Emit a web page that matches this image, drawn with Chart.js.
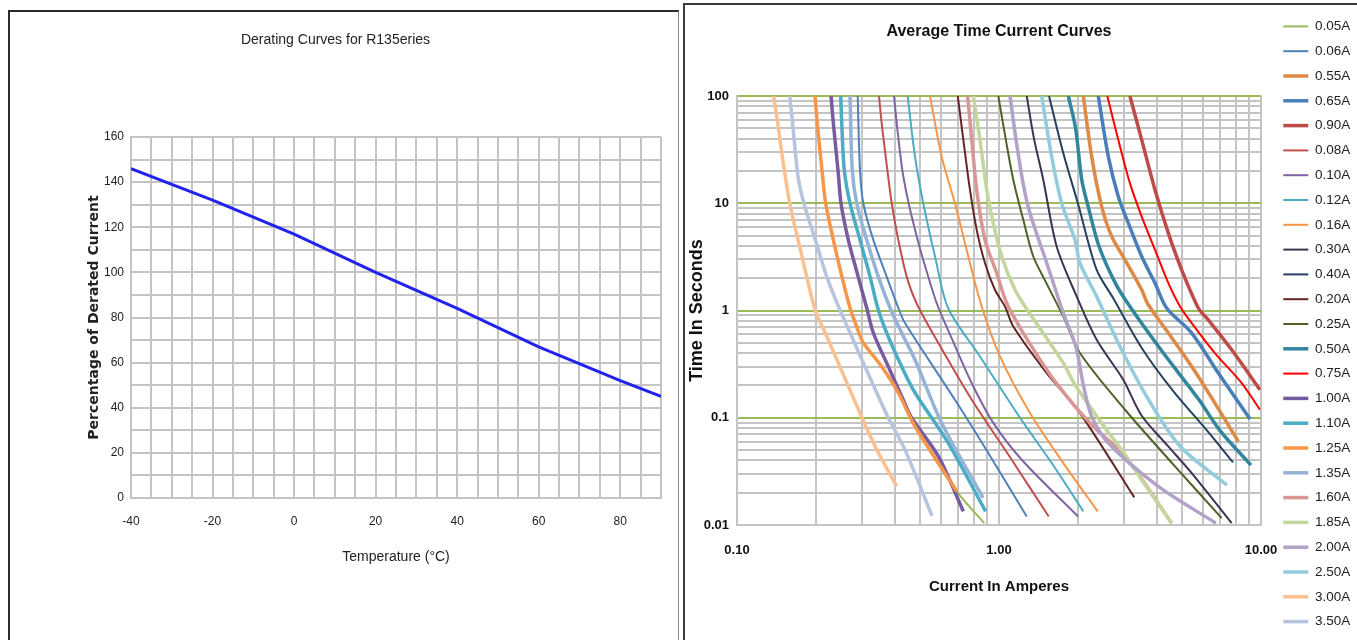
<!DOCTYPE html>
<html>
<head>
<meta charset="utf-8">
<script src="https://cdn.jsdelivr.net/npm/chart.js@4.4.1/dist/chart.umd.min.js"></script>
<style>
  html, body { margin: 0; padding: 0; background: #fff; width: 1357px; height: 640px; overflow: hidden; }
  #leftPanel { position: absolute; left: 8px; top: 10px; width: 668px; height: 640px; border-top: 2px solid #2b2b2b; border-left: 2px solid #2b2b2b; border-right: 1px solid #888; }
  #rightPanel { position: absolute; left: 683px; top: 3px; width: 680px; height: 640px; border-top: 2px solid #3a3a3a; border-left: 2px solid #3a3a3a; }
  canvas { position: absolute; left: 0; top: 0; }
</style>
</head>
<body>
<div id="leftPanel"><canvas id="deratingChart" width="668" height="628"></canvas></div>
<div id="rightPanel"><canvas id="timeCurrentChart" width="672" height="635"></canvas></div>
<script>
// derating chart
const tempC = [-40, -20, 0, 20, 40, 60, 80, 90];
const ratedPct = [146, 132, 117, 100, 84, 67, 52, 45];
const tempTicks = [-40, -20, 0, 20, 40, 60, 80];
const pctTicks = [0, 20, 40, 60, 80, 100, 120, 140, 160];

// time current curves: [current A, time s]
const c005 = [[0.1985,100],[0.2025,55.8],[0.2116,19.1],[0.218,10],[0.2332,4.56],[0.2494,2.25],[0.27,1.06],[0.292,0.62],[0.3034,0.5],[0.3566,0.3],[0.4127,0.171],[0.478,0.083],[0.69,0.0206],[0.879,0.0104]];
const c006 = [[0.2889,100],[0.2947,20.5],[0.3034,10],[0.3313,4.56],[0.3726,2.07],[0.4127,1.06],[0.4377,0.763],[0.679,0.147],[0.91,0.0469],[1.276,0.012]];
const c055 = [[2.098,100],[2.258,27.2],[2.466,9.3],[2.693,4.9],[3.027,2.97],[3.505,1.56],[3.7,1.15],[4.43,0.616],[5.44,0.3],[6.67,0.137],[8.19,0.0601]];
const c065 = [[2.393,100],[2.614,27.2],[2.853,11.55],[3.116,6.52],[3.505,3.19],[3.94,1.8],[4.37,1.05],[5.44,0.616],[6.87,0.261],[9.08,0.0972]];
const c090 = [[3.16,100],[3.505,39],[3.94,13.3],[4.43,5.26],[4.98,2.39],[5.77,1.05],[6.29,0.819],[7.73,0.43],[9.91,0.1824]];
const c008 = [[0.3483,100],[0.3566,55.8],[0.3748,20.5],[0.3895,10],[0.4127,4.56],[0.4444,2.07],[0.486,1.15],[0.587,0.497],[0.787,0.147],[1.118,0.0406],[1.548,0.012]];
const c010 = [[0.3974,100],[0.409,50],[0.428,20],[0.452,10],[0.49,4.5],[0.53,2.3],[0.58,1.15],[0.66,0.55],[0.787,0.21],[0.95,0.09],[1.221,0.0406],[2.002,0.012]];
const c012 = [[0.448,100],[0.478,27.2],[0.514,10],[0.57,3.19],[0.64,1.05],[0.846,0.373],[1.203,0.1],[1.589,0.0378],[2.098,0.0134]];
const c016 = [[0.5455,100],[0.6043,27.2],[0.679,10],[0.7635,3.19],[0.859,1.09],[1.009,0.373],[1.313,0.1106],[1.76,0.0378],[2.381,0.0134]];
const c030 = [[1.276,100],[1.36,40],[1.476,16.5],[1.66,3.95],[1.98,1.35],[2.36,0.533],[2.98,0.226],[3.5,0.105],[4.4,0.055],[5.44,0.0305],[7.73,0.0104]];
const c040 = [[1.552,100],[1.76,29.2],[2.0,10],[2.36,2.39],[2.73,1.3],[3.5,0.45],[4.6,0.18],[6.25,0.075],[7.82,0.0383]];
const c020 = [[0.696,100],[0.731,39],[0.775,13.3],[0.822,5.65],[0.884,2.77],[0.965,1.56],[1.054,1.09],[1.134,0.71],[1.521,0.261],[2.037,0.1106],[3.284,0.0181]];
const c025 = [[0.994,100],[1.06,40],[1.134,16.5],[1.238,7.0],[1.352,3.19],[1.5,1.9],[1.75,0.9],[2.037,0.401],[3.027,0.1187],[4.696,0.0352],[7.08,0.0116]];
const c050 = [[1.839,100],[1.96,50],[2.07,16.5],[2.19,9.3],[2.41,3.95],[2.78,1.8],[3.15,1.1],[4.15,0.43],[5.8,0.147],[7.0,0.075],[9.15,0.0362]];
const c075 = [[2.591,100],[2.853,39],[3.16,15.4],[3.505,7.52],[3.94,3.68],[4.43,1.8],[4.91,1.09],[5.44,0.763],[6.67,0.401],[8.44,0.2106],[9.91,0.1187]];
const c100 = [[0.2285,100],[0.2332,55.8],[0.2435,19.1],[0.2494,10],[0.266,4.56],[0.29,2.07],[0.3126,1.06],[0.3313,0.62],[0.378,0.3],[0.431,0.147],[0.464,0.1],[0.587,0.0436],[0.731,0.0134]];
const c110 = [[0.2488,100],[0.2511,55.8],[0.2567,20.5],[0.27,10],[0.2947,4.56],[0.322,2.07],[0.3444,1.06],[0.3726,0.62],[0.425,0.3],[0.478,0.171],[0.639,0.0585],[0.889,0.0134]];
const c125 = [[0.1985,100],[0.2025,55.8],[0.2116,19.1],[0.218,10],[0.2332,4.56],[0.2494,2.25],[0.27,1.06],[0.292,0.62],[0.3034,0.5],[0.3566,0.3],[0.4127,0.171],[0.478,0.083],[0.69,0.0206]];
const c135 = [[0.27,100],[0.2754,20.5],[0.2863,10],[0.3126,4.56],[0.3462,2.07],[0.3837,1.06],[0.425,0.62],[0.478,0.347],[0.604,0.0893],[0.869,0.0179]];
const c160 = [[0.759,100],[0.787,39],[0.822,13.3],[0.884,4.56],[0.98,2.23],[1.085,1.09],[1.521,0.28],[1.95,0.1274],[2.36,0.0773],[3.027,0.0436],[4.562,0.0104]];
const c185 = [[0.798,100],[0.846,39],[0.898,13.3],[0.951,6.52],[1.024,3.19],[1.151,1.56],[1.257,1.09],[1.76,0.3235],[1.95,0.203],[2.57,0.0773],[3.0,0.047],[3.5,0.0264],[4.562,0.0104]];
const c200 = [[1.102,100],[1.16,40],[1.238,15],[1.313,8.08],[1.521,2.77],[1.76,0.946],[1.97,0.45],[2.1,0.2],[2.258,0.1028],[2.614,0.0581],[4.055,0.0229],[6.73,0.0104]];
const c250 = [[1.455,100],[1.59,27],[1.735,10],[1.95,4.56],[2.037,2.77],[2.36,1.35],[2.896,0.462],[3.66,0.158],[4.91,0.0542],[7.42,0.0235]];
const c300 = [[0.138,100],[0.143,56],[0.149,27],[0.159,10],[0.177,3.2],[0.199,1],[0.217,0.62],[0.247,0.3],[0.3,0.1],[0.342,0.05],[0.407,0.023]];
const c350 = [[0.159,100],[0.163,55.8],[0.171,17.7],[0.18,10],[0.199,4.56],[0.22,2.07],[0.245,1.06],[0.27,0.62],[0.308,0.3],[0.378,0.1],[0.438,0.05],[0.555,0.0122]];

const seriesNames = ['0.05A','0.06A','0.55A','0.65A','0.90A','0.08A','0.10A','0.12A','0.16A','0.30A','0.40A','0.20A','0.25A',
  '0.50A','0.75A','1.00A','1.10A','1.25A','1.35A','1.60A','1.85A','2.00A','2.50A','3.00A','3.50A'];
const seriesPoints = [c005,c006,c055,c065,c090,c008,c010,c012,c016,c030,c040,c020,c025,
  c050,c075,c100,c110,c125,c135,c160,c185,c200,c250,c300,c350];
const seriesColors = ['#9BBB59','#4F81BD','#DD8A44','#4A7EBB','#BE4B48','#C0504D','#8064A2','#4BACC6','#F79646','#403152','#254061','#632523','#4F6228',
  '#31859C','#FF0000','#775BA0','#4BACC6','#F79646','#95B3D7','#D99694','#C3D69B','#B3A2C7','#93CDDD','#FAC090','#B7C4DE'];
const seriesThick = [false,false,true,true,true,false,false,false,false,false,false,false,false,
  true,false,true,true,true,true,true,true,true,true,true,true];

const xTickValues = [0.1, 1, 10];
const xTickLabels = ['0.10', '1.00', '10.00'];
const yTickValues = [0.01, 0.1, 1, 10, 100];
const yTickLabels = ['0.01', '0.1', '1', '10', '100'];

const narrow = "'Liberation Sans Narrow', 'Liberation Sans', Arial, sans-serif";

new Chart(document.getElementById('deratingChart').getContext('2d'), {
  type: 'line',
  data: {
    datasets: [{
      data: tempC.map((t, i) => ({ x: t, y: ratedPct[i] })),
      borderColor: '#2222ee',
      borderWidth: 3,
      pointRadius: 0,
      tension: 0
    }]
  },
  options: {
    responsive: false,
    animation: false,
    devicePixelRatio: 1,
    layout: { padding: { left: 0, right: 17, top: 0, bottom: 0 } },
    plugins: {
      legend: { display: false },
      tooltip: { enabled: false },
      title: {
        display: true,
        text: 'Derating Curves for R135eries',
        color: '#222',
        font: { family: narrow, size: 14, weight: 'normal' },
        padding: { top: 19.6, bottom: 88.6 }
      }
    },
    scales: {
      x: {
        type: 'linear', min: -40, max: 90,
        afterFit: (s) => { s.height = 142; },
        ticks: {
          stepSize: 5, autoSkip: false, maxRotation: 0, padding: 16, color: '#222',
          font: { family: narrow, size: 12 },
          callback: (v) => tempTicks.includes(v) ? String(v) : ''
        },
        grid: { color: '#c4c4c4', lineWidth: 2, drawTicks: false },
        border: { color: '#c4c4c4', width: 2 },
        title: {
          display: true, text: 'Temperature (°C)', color: '#222',
          font: { family: narrow, size: 14 },
          padding: { top: 0, bottom: 74.6 }
        }
      },
      y: {
        min: 0, max: 160,
        afterFit: (s) => { s.width = 121; },
        ticks: {
          stepSize: 10, autoSkip: false, padding: 7, color: '#222',
          font: { family: narrow, size: 12 },
          callback: (v) => pctTicks.includes(v) ? String(v) : ''
        },
        grid: { color: '#c4c4c4', lineWidth: 2, drawTicks: false },
        border: { color: '#c4c4c4', width: 2 },
        title: {
          display: true, text: 'Percentage of Derated Current', color: '#222',
          font: { family: "'DejaVu Sans', sans-serif", size: 14, weight: 'bold' },
          padding: { top: 75.6, bottom: 0 }
        }
      }
    }
  }
});

function logGrid(lo, hi) {
  const vals = [];
  for (let e = lo; e < hi; e++) {
    for (let m = 1; m < 10; m++) vals.push(+(m * Math.pow(10, e)).toPrecision(2));
  }
  vals.push(+Math.pow(10, hi).toPrecision(2));
  return vals;
}
const near = (a, b) => Math.abs(a - b) < 1e-9 * Math.max(1, b);
const labelFor = (v, vals, labels) => {
  const i = vals.findIndex((m) => near(v, m));
  return i >= 0 ? labels[i] : '';
};

const legendPlacer = {
  id: 'legendPlacer',
  afterInit(chart) {
    const lg = chart.legend;
    const fit = lg.fit;
    lg.fit = function () { fit.call(this); this.width = 96; };
  },
  afterLayout(chart) {
    chart.legend.left = chart.chartArea.right + 11;
    chart.legend.top += 3;
  }
};

new Chart(document.getElementById('timeCurrentChart').getContext('2d'), {
  type: 'line',
  data: {
    datasets: seriesNames.map((name, i) => ({
      label: name,
      data: seriesPoints[i].map((p) => ({ x: p[0], y: p[1] })),
      borderColor: seriesColors[i],
      backgroundColor: seriesColors[i],
      pointBorderColor: seriesColors[i],
      borderWidth: seriesThick[i] ? 3.5 : 2,
      pointBorderWidth: seriesThick[i] ? 3.5 : 2,
      pointRadius: 0,
      tension: 0.3,
      order: -i
    }))
  },
  plugins: [legendPlacer],
  options: {
    responsive: false,
    animation: false,
    devicePixelRatio: 1,
    layout: { padding: 0 },
    plugins: {
      tooltip: { enabled: false },
      title: {
        display: true,
        fullSize: false,
        text: 'Average Time Current Curves',
        color: '#111',
        font: { family: narrow, size: 16, weight: 'bold' },
        padding: { top: 17.4, bottom: 54.4 }
      },
      legend: {
        position: 'right',
        align: 'center',
        labels: {
          usePointStyle: true,
          pointStyle: 'line',
          pointStyleWidth: 25,
          boxHeight: 8,
          padding: 11.3,
          color: '#222',
          font: { family: narrow, size: 13.5 },
          sort: (a, b) => a.datasetIndex - b.datasetIndex
        }
      }
    },
    scales: {
      x: {
        type: 'logarithmic', min: 0.1, max: 10,
        afterBuildTicks: (s) => { s.ticks = logGrid(-1, 1).map((v) => ({ value: v })); },
        afterFit: (s) => { s.height = 115; },
        ticks: {
          autoSkip: false, maxRotation: 0, padding: 18, color: '#111',
          font: { family: narrow, size: 13, weight: 'bold' },
          callback: (v) => labelFor(v, xTickValues, xTickLabels)
        },
        grid: { color: '#c4c4c4', lineWidth: 2, drawTicks: false },
        border: { color: '#c4c4c4', width: 2 },
        title: {
          display: true, text: 'Current In Amperes', color: '#111',
          font: { family: narrow, size: 15, weight: 'bold' },
          padding: { top: 0, bottom: 44 }
        }
      },
      y: {
        type: 'logarithmic', min: 0.01, max: 100,
        afterBuildTicks: (s) => { s.ticks = logGrid(-2, 2).map((v) => ({ value: v })); },
        afterFit: (s) => { s.width = 52; },
        ticks: {
          autoSkip: false, padding: 8, color: '#111',
          font: { family: narrow, size: 13, weight: 'bold' },
          callback: (v) => labelFor(v, yTickValues, yTickLabels)
        },
        grid: {
          lineWidth: 2, drawTicks: false,
          color: (c) => {
            const v = c.tick ? c.tick.value : 0;
            const lg = Math.log10(v);
            return (Math.abs(lg - Math.round(lg)) < 1e-9 && v > 0.05) ? '#9BBB59' : '#c4c4c4';
          }
        },
        border: { color: '#c4c4c4', width: 2 },
        title: {
          display: true, text: 'Time In Seconds', color: '#111',
          font: { family: narrow, size: 18, weight: 'bold' },
          padding: { top: 1, bottom: 0 }
        }
      }
    }
  }
});
</script>
</body>
</html>
